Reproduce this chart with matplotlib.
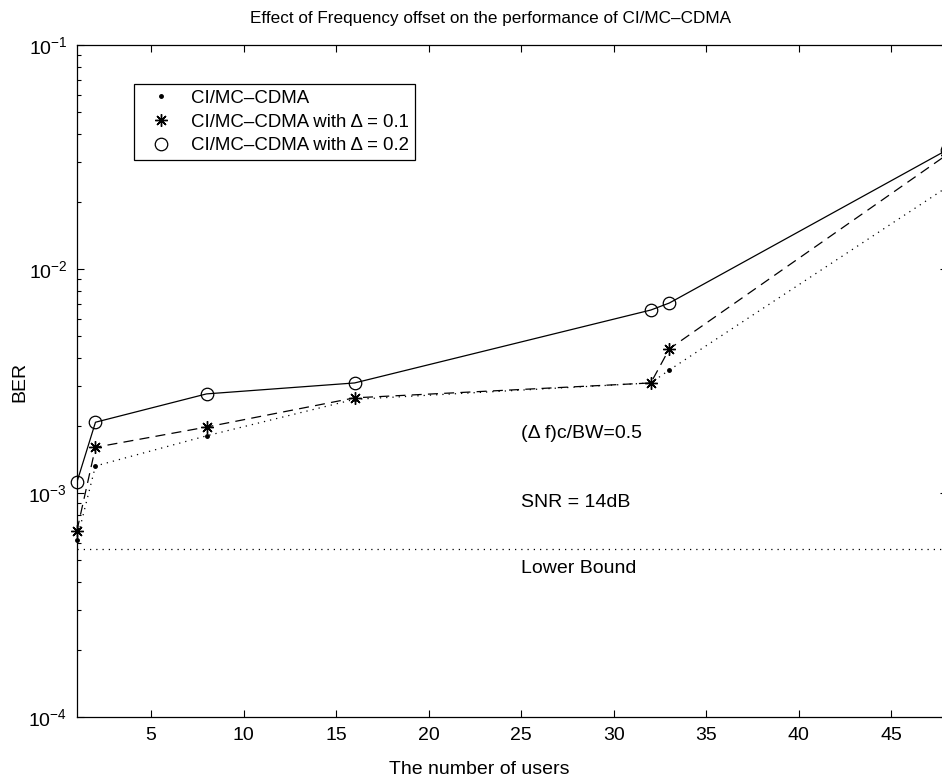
import matplotlib
matplotlib.use("Agg")
import matplotlib.pyplot as plt
from matplotlib.lines import Line2D
from matplotlib.ticker import LogLocator, FixedLocator

plt.rcParams["font.family"] = ["Liberation Sans", "DejaVu Sans"]
plt.rcParams["mathtext.fontset"] = "custom"
plt.rcParams["mathtext.rm"] = "Liberation Sans"
plt.rcParams["mathtext.it"] = "Liberation Sans:italic"

# number of users
users = [1, 2, 8, 16, 32, 33, 48]
# BER
ber_plain = [6.2e-4, 1.32e-3, 1.80e-3, 2.62e-3, 3.10e-3, 3.54e-3, 2.32e-2]
ber_d01 = [6.8e-4, 1.60e-3, 1.97e-3, 2.66e-3, 3.10e-3, 4.4e-3, 3.24e-2]
ber_d02 = [1.12e-3, 2.07e-3, 2.77e-3, 3.10e-3, 6.56e-3, 7.05e-3, 3.40e-2]
lower_bound = 5.6e-4

labels = ["CI/MC\u2013CDMA",
          "CI/MC\u2013CDMA with \u0394 = 0.1",
          "CI/MC\u2013CDMA with \u0394 = 0.2"]

FS = 14
asterisk = (8, 2, 0)

fig = plt.figure(figsize=(9.42, 7.79), dpi=100)
ax = fig.add_axes([0.0817, 0.0796, 0.9236, 0.8626])

lw = 0.9
ax.plot(users, ber_plain, color="k", lw=lw, linestyle=(0, (1, 4)))
ax.plot(users, ber_d01, color="k", lw=lw, linestyle=(0, (8, 5)))
ax.plot(users, ber_d02, color="k", lw=lw, linestyle="-")
ax.plot(users, ber_plain, "k.", ms=5, linestyle="none", clip_on=False)
ax.plot(users, ber_d01, color="k", marker=asterisk, ms=9, mew=1.0,
        linestyle="none", clip_on=False)
ax.plot(users, ber_d02, color="k", marker="o", mfc="none", ms=9, mew=0.9,
        linestyle="none", clip_on=False)
ax.plot([users[0], users[-1]], [lower_bound, lower_bound], color="k", lw=lw,
        linestyle=(0, (1, 4)))

ax.set_yscale("log")
ax.set_xlim(1, 48)
ax.set_ylim(1e-4, 1e-1)
ax.xaxis.set_major_locator(FixedLocator([5, 10, 15, 20, 25, 30, 35, 40, 45]))
ax.yaxis.set_major_locator(LogLocator(base=10, numticks=10))
ax.yaxis.set_minor_locator(LogLocator(base=10, subs=range(2, 10), numticks=10))
ax.tick_params(which="both", direction="in", top=True, right=True,
               labelsize=FS, pad=7)
ax.tick_params(which="major", length=5, width=0.8)
ax.tick_params(which="minor", length=3, width=0.8)
for s in ax.spines.values():
    s.set_linewidth(0.9)

ax.text(25, 1.85e-3, "(\u0394 f)c/BW=0.5", fontsize=FS, va="center", ha="left")
ax.text(25, 9.1e-4, "SNR = 14dB", fontsize=FS, va="center", ha="left")
ax.text(25, 4.6e-4, "Lower Bound", fontsize=FS, va="center", ha="left")

handles = [
    Line2D([], [], color="k", marker=".", ms=5, linestyle="none"),
    Line2D([], [], color="k", marker=asterisk, ms=9, mew=1.0, linestyle="none"),
    Line2D([], [], color="k", marker="o", mfc="none", ms=9, mew=0.9, linestyle="none"),
]
leg = ax.legend(handles, labels, loc="upper left", bbox_to_anchor=(0.0655, 0.942),
                borderaxespad=0, fontsize=13.4, fancybox=False, framealpha=1,
                edgecolor="k", labelspacing=0.36, borderpad=0.32,
                handlelength=2.3, handletextpad=0.45)
leg.get_frame().set_linewidth(0.9)

fig.text(491 / 942, 1 - 18 / 779, "Effect of Frequency offset on the performance of CI/MC\u2013CDMA",
         fontsize=12.3, ha="center", va="center")
fig.text(479 / 942, 1 - 769 / 779, "The number of users", fontsize=FS,
         ha="center", va="center")
fig.text(20 / 942, 1 - 382 / 779, "BER", fontsize=FS, ha="center", va="center",
         rotation=90)

fig.savefig("out.png", dpi=100)
